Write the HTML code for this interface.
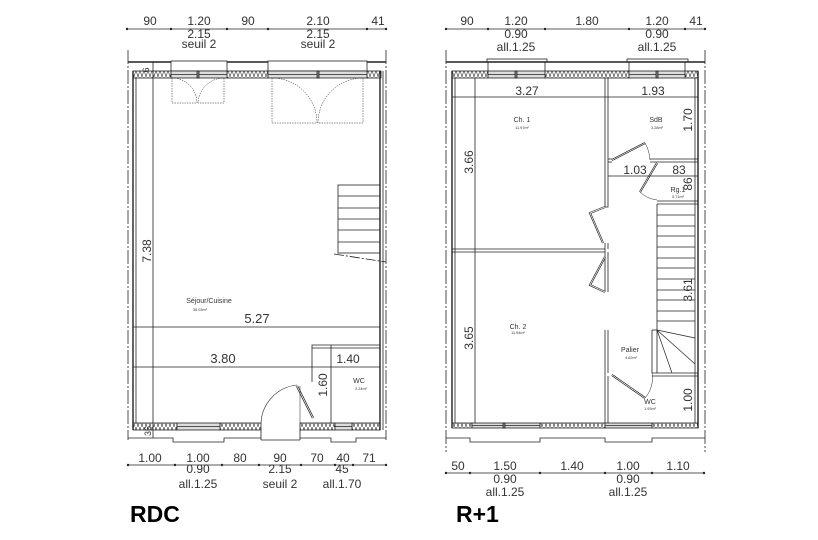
<!DOCTYPE html><html><head><meta charset="utf-8"><style>
html,body{margin:0;padding:0;background:#fff}
svg{display:block}
text{font-family:"Liberation Sans","DejaVu Sans",sans-serif;fill:#333}
.d{font-size:12px}
.s{font-size:7px}
.t{font-size:3.8px}
</style></head><body>
<svg width="818" height="540" viewBox="0 0 818 540" xmlns="http://www.w3.org/2000/svg">
<defs>
<pattern id="h" width="4" height="7" patternUnits="userSpaceOnUse">
<path d="M0,0 L2,7 L4,0" fill="none" stroke="#333" stroke-width="0.6"/>
</pattern>
</defs>
<g stroke="#222" fill="none" stroke-width="0.8">
<!-- ================= RDC ================= -->
<line x1="127" y1="29" x2="387" y2="29"/>
<g fill="#222" stroke="none"><circle cx="127" cy="29" r="1.2"/><circle cx="171" cy="29" r="1.2"/><circle cx="227" cy="29" r="1.2"/><circle cx="268" cy="29" r="1.2"/><circle cx="367" cy="29" r="1.2"/><circle cx="386" cy="29" r="1.2"/></g>
<line x1="128" y1="50" x2="128" y2="440" stroke-dasharray="14,2,2,2"/>
<line x1="386" y1="50" x2="386" y2="440" stroke-dasharray="14,2,2,2"/>
<polyline points="128,62 171,62" stroke-width="1.4"/>
<polyline points="227,62 268,62" stroke-width="1.4"/>
<polyline points="367,62 386,62" stroke-width="1.4"/>
<rect x="171" y="61" width="56" height="10"/><rect x="268" y="61" width="99" height="10"/>
<rect x="133" y="71" width="38" height="7" fill="url(#h)"/>
<rect x="227" y="71" width="41" height="7" fill="url(#h)"/>
<rect x="367" y="71" width="14" height="7" fill="url(#h)"/>
<rect x="171" y="71" width="56" height="7" fill="#ddd"/><rect x="268" y="71" width="99" height="7" fill="#ddd"/>
<line x1="171" y1="74.5" x2="227" y2="74.5"/><line x1="268" y1="74.5" x2="367" y2="74.5"/>
<rect x="197" y="71" width="2" height="7" fill="#888"/><rect x="317" y="71" width="2" height="7" fill="#888"/>
<g stroke-width="0.5" stroke-dasharray="1.5,1">
<path d="M172,78 V103 H197 A25,25 0 0,0 172,78"/>
<path d="M224,78 V103 H198 A26,26 0 0,1 224,78"/>
<path d="M272,78 V123 H317 A45,45 0 0,0 272,78"/>
<path d="M363,78 V123 H318 A45,45 0 0,1 363,78"/>
</g>
<line x1="133" y1="71" x2="133" y2="430" stroke-width="1.4"/>
<line x1="136" y1="78" x2="136" y2="423"/>
<line x1="153" y1="62" x2="153" y2="438"/>
<line x1="380" y1="71" x2="380" y2="430" stroke-width="1.4"/>
<line x1="383" y1="71" x2="383" y2="430"/>
<rect x="338" y="185" width="42" height="68"/>
<line x1="338" y1="196" x2="380" y2="196"/><line x1="338" y1="208" x2="380" y2="208"/><line x1="338" y1="219" x2="380" y2="219"/><line x1="338" y1="230" x2="380" y2="230"/><line x1="338" y1="242" x2="380" y2="242"/>
<line x1="334" y1="254" x2="386" y2="262" stroke-dasharray="10,2,2,2"/>
<line x1="133" y1="327" x2="380" y2="327"/>
<line x1="133" y1="367" x2="380" y2="367"/>
<polyline points="312,382 312,345 380,345"/>
<line x1="312" y1="348" x2="380" y2="348"/>
<line x1="331" y1="345" x2="331" y2="423"/>
<line x1="297" y1="386" x2="313" y2="418" stroke-width="2.2"/>
<line x1="297" y1="386" x2="313" y2="418" stroke="#fff" stroke-width="0.8"/>
<line x1="300" y1="386" x2="300" y2="423" stroke-width="0.5"/>
<path d="M261,423 A40,40 0 0,1 297,385" stroke-width="0.6"/>
<rect x="133" y="423" width="44" height="7" fill="url(#h)"/>
<rect x="220" y="423" width="41" height="7" fill="url(#h)"/>
<rect x="300" y="423" width="35" height="7" fill="url(#h)"/>
<rect x="352" y="423" width="28" height="7" fill="url(#h)"/>
<rect x="177" y="423" width="43" height="7" fill="#ddd"/><rect x="335" y="423" width="17" height="7" fill="#ddd"/>
<line x1="177" y1="426.5" x2="220" y2="426.5"/><line x1="335" y1="426.5" x2="352" y2="426.5"/>
<polyline points="128,438 173,438 173,442 224,442 224,438 261,438"/>
<polyline points="300,438 331,438 331,442 356,442 356,438 386,438"/>
<line x1="261" y1="440" x2="300" y2="440"/>
<line x1="261" y1="430" x2="261" y2="440"/><line x1="300" y1="430" x2="300" y2="440"/>
<line x1="127" y1="465" x2="387" y2="465"/>
<g fill="#222" stroke="none"><circle cx="128" cy="465" r="1.2"/><circle cx="175" cy="465" r="1.2"/><circle cx="222" cy="465" r="1.2"/><circle cx="259" cy="465" r="1.2"/><circle cx="301" cy="465" r="1.2"/><circle cx="335" cy="465" r="1.2"/><circle cx="353" cy="465" r="1.2"/><circle cx="386" cy="465" r="1.2"/></g>

<!-- ================= R+1 ================= -->
<line x1="446" y1="29" x2="705" y2="29"/>
<g fill="#222" stroke="none"><circle cx="446" cy="29" r="1.2"/><circle cx="488" cy="29" r="1.2"/><circle cx="545" cy="29" r="1.2"/><circle cx="629" cy="29" r="1.2"/><circle cx="685" cy="29" r="1.2"/><circle cx="705" cy="29" r="1.2"/></g>
<line x1="446" y1="50" x2="446" y2="452" stroke-dasharray="14,2,2,2"/>
<line x1="705" y1="50" x2="705" y2="452" stroke-dasharray="14,2,2,2"/>
<line x1="446" y1="62" x2="705" y2="62" stroke-width="1.4"/>
<rect x="487" y="59" width="60" height="3"/><rect x="627" y="59" width="61" height="3"/>
<line x1="488" y1="62" x2="488" y2="71"/><line x1="545" y1="62" x2="545" y2="71"/><line x1="629" y1="62" x2="629" y2="71"/><line x1="685" y1="62" x2="685" y2="71"/>
<rect x="452" y="71" width="36" height="7" fill="url(#h)"/>
<rect x="545" y="71" width="84" height="7" fill="url(#h)"/>
<rect x="685" y="71" width="13" height="7" fill="url(#h)"/>
<rect x="488" y="71" width="57" height="7" fill="#ddd"/><rect x="629" y="71" width="56" height="7" fill="#ddd"/>
<line x1="488" y1="74.5" x2="545" y2="74.5"/><line x1="629" y1="74.5" x2="685" y2="74.5"/>
<rect x="515" y="71" width="2" height="7" fill="#888"/><rect x="656" y="71" width="2" height="7" fill="#888"/>
<line x1="452" y1="71" x2="452" y2="428" stroke-width="1.4"/>
<line x1="455" y1="78" x2="455" y2="423"/>
<line x1="475" y1="78" x2="475" y2="423"/>
<line x1="698" y1="71" x2="698" y2="428" stroke-width="1.4"/>
<line x1="695" y1="78" x2="695" y2="423"/>
<line x1="452" y1="97" x2="698" y2="97"/>
<polyline points="605,78 605,207 608,207 608,78"/>
<polyline points="605,243 605,292"/><polyline points="608,243 608,249"/><polyline points="608,252 608,292"/>
<polyline points="605,330 605,423"/><polyline points="608,330 608,373"/><polyline points="608,376 608,423"/>
<line x1="452" y1="249" x2="605" y2="249"/><line x1="452" y1="252" x2="605" y2="252"/>
<g stroke-width="2">
<polyline points="605,207 590,213 603,243"/>
<polyline points="605,257 590,285 605,292"/>
<line x1="612" y1="160" x2="645" y2="143"/>
<line x1="657" y1="163" x2="640" y2="192"/>
<line x1="612" y1="375" x2="645" y2="398"/>
</g>
<g stroke="#fff" stroke-width="0.7">
<polyline points="605,207 590,213 603,243"/>
<polyline points="605,257 590,285 605,292"/>
<line x1="612" y1="160" x2="645" y2="143"/>
<line x1="657" y1="163" x2="640" y2="192"/>
<line x1="612" y1="375" x2="645" y2="398"/>
</g>
<line x1="650" y1="159" x2="698" y2="159"/><line x1="650" y1="162" x2="698" y2="162"/>
<line x1="608" y1="159" x2="612" y2="159"/><line x1="608" y1="162" x2="612" y2="162"/>
<path d="M645,143 A38,38 0 0,1 650,160" stroke-width="0.5"/>
<line x1="608" y1="176" x2="698" y2="176"/>
<line x1="657" y1="201" x2="698" y2="201"/><line x1="657" y1="204" x2="698" y2="204"/>
<path d="M640,192 A30,30 0 0,0 657,200" stroke-width="0.5"/>
<line x1="657" y1="204" x2="657" y2="373"/>
<g stroke-width="0.7">
<line x1="657" y1="215" x2="695" y2="215"/><line x1="657" y1="226" x2="695" y2="226"/><line x1="657" y1="236" x2="695" y2="236"/><line x1="657" y1="247" x2="695" y2="247"/><line x1="657" y1="258" x2="695" y2="258"/><line x1="657" y1="268" x2="695" y2="268"/><line x1="657" y1="279" x2="695" y2="279"/><line x1="657" y1="290" x2="695" y2="290"/><line x1="657" y1="300" x2="695" y2="300"/><line x1="657" y1="311" x2="695" y2="311"/><line x1="657" y1="321" x2="695" y2="321"/>
<line x1="657" y1="330" x2="695" y2="338"/><line x1="657" y1="330" x2="695" y2="364"/><line x1="657" y1="330" x2="672" y2="373"/>
</g>
<line x1="652" y1="330" x2="652" y2="373"/>
<line x1="652" y1="330" x2="657" y2="330"/>
<line x1="652" y1="373" x2="698" y2="373"/><line x1="652" y1="376" x2="698" y2="376"/>
<path d="M645,398 A30,30 0 0,0 652,373" stroke-width="0.5"/>
<rect x="452" y="423" width="20" height="5" fill="url(#h)"/>
<rect x="540" y="423" width="65" height="5" fill="url(#h)"/>
<rect x="652" y="423" width="46" height="5" fill="url(#h)"/>
<rect x="472" y="423" width="68" height="5" fill="#ddd"/><rect x="605" y="423" width="47" height="5" fill="#ddd"/>
<line x1="472" y1="425.5" x2="540" y2="425.5"/><line x1="605" y1="425.5" x2="652" y2="425.5"/>
<rect x="503" y="423" width="2" height="5" fill="#888"/>
<polyline points="446,438 470,438 470,442 540,442 540,438 605,438 605,442 652,442 652,438 705,438"/>
<line x1="446" y1="473" x2="705" y2="473"/>
<g fill="#222" stroke="none"><circle cx="446" cy="473" r="1.2"/><circle cx="470" cy="473" r="1.2"/><circle cx="540" cy="473" r="1.2"/><circle cx="605" cy="473" r="1.2"/><circle cx="652" cy="473" r="1.2"/><circle cx="704" cy="473" r="1.2"/></g>
</g>

<g class="d" text-anchor="middle">
<text x="150" y="25">90</text><text x="199" y="25">1.20</text><text x="248" y="25">90</text><text x="318" y="25">2.10</text><text x="378" y="25">41</text>
<text x="199" y="38">2.15</text><text x="318" y="38">2.15</text>
<text x="199" y="48">seuil  2</text><text x="318" y="48">seuil  2</text>
<text x="257" y="323" font-size="13">5.27</text>
<text x="223" y="363" font-size="13">3.80</text>
<text x="348" y="363">1.40</text>
<text x="150" y="462">1.00</text><text x="198" y="462">1.00</text><text x="240" y="462">80</text><text x="280" y="462">90</text><text x="317" y="462">70</text><text x="343" y="462">40</text><text x="369" y="462">71</text>
<text x="198" y="473">0.90</text><text x="280" y="473">2.15</text><text x="342" y="473">45</text>
<text x="198" y="488">all.1.25</text><text x="280" y="488">seuil  2</text><text x="342" y="488">all.1.70</text>
</g>
<text class="d" transform="translate(151,251) rotate(-90)" text-anchor="middle" font-size="13">7.38</text>
<text class="d" transform="translate(327,385) rotate(-90)" text-anchor="middle">1.60</text>
<text transform="translate(149,70) rotate(-90)" text-anchor="middle" font-size="9">6</text>
<text transform="translate(151,431) rotate(-90)" text-anchor="middle" font-size="9">36</text>
<text class="s" x="209" y="303" text-anchor="middle">Séjour/Cuisine</text>
<text class="t" x="200" y="311" text-anchor="middle">35.03m²</text>
<text class="s" x="359" y="383" text-anchor="middle">WC</text>
<text class="t" x="361" y="390" text-anchor="middle">2.24m²</text>
<text x="130" y="522" font-size="23" font-weight="bold" style="fill:#000">RDC</text>

<g class="d" text-anchor="middle">
<text x="467" y="25">90</text><text x="516" y="25">1.20</text><text x="587" y="25">1.80</text><text x="657" y="25">1.20</text><text x="696" y="25">41</text>
<text x="516" y="38">0.90</text><text x="657" y="38">0.90</text>
<text x="516" y="51">all.1.25</text><text x="657" y="51">all.1.25</text>
<text x="527" y="95">3.27</text><text x="653" y="95">1.93</text>
<text x="635" y="174">1.03</text><text x="679" y="174">83</text>
<text x="458" y="470">50</text><text x="505" y="470">1.50</text><text x="572" y="470">1.40</text><text x="628" y="470">1.00</text><text x="678" y="470">1.10</text>
<text x="505" y="483">0.90</text><text x="628" y="483">0.90</text>
<text x="505" y="496">all.1.25</text><text x="628" y="496">all.1.25</text>
</g>
<text class="d" transform="translate(473,162) rotate(-90)" text-anchor="middle" font-size="13">3.66</text>
<text class="d" transform="translate(473,338) rotate(-90)" text-anchor="middle" font-size="13">3.65</text>
<text class="d" transform="translate(692,120) rotate(-90)" text-anchor="middle">1.70</text>
<text class="d" transform="translate(692,184) rotate(-90)" text-anchor="middle">86</text>
<text class="d" transform="translate(692,290) rotate(-90)" text-anchor="middle">3.61</text>
<text class="d" transform="translate(692,400) rotate(-90)" text-anchor="middle">1.00</text>
<text class="s" x="522" y="122" text-anchor="middle">Ch. 1</text>
<text class="t" x="522" y="129" text-anchor="middle">11.97m²</text>
<text class="s" x="656" y="122" text-anchor="middle">SdB</text>
<text class="t" x="657" y="129" text-anchor="middle">3.28m²</text>
<text class="s" x="678" y="192" text-anchor="middle">Rg.1</text>
<text class="t" x="678" y="198" text-anchor="middle">0.71m²</text>
<text class="s" x="518" y="329" text-anchor="middle">Ch. 2</text>
<text class="t" x="518" y="334" text-anchor="middle">11.94m²</text>
<text class="s" x="630" y="352" text-anchor="middle">Palier</text>
<text class="t" x="631" y="359" text-anchor="middle">4.62m²</text>
<text class="s" x="650" y="404" text-anchor="middle">WC</text>
<text class="t" x="650" y="410" text-anchor="middle">1.93m²</text>
<text x="456" y="522" font-size="23" font-weight="bold" style="fill:#000">R+1</text>
</svg>
</body></html>
